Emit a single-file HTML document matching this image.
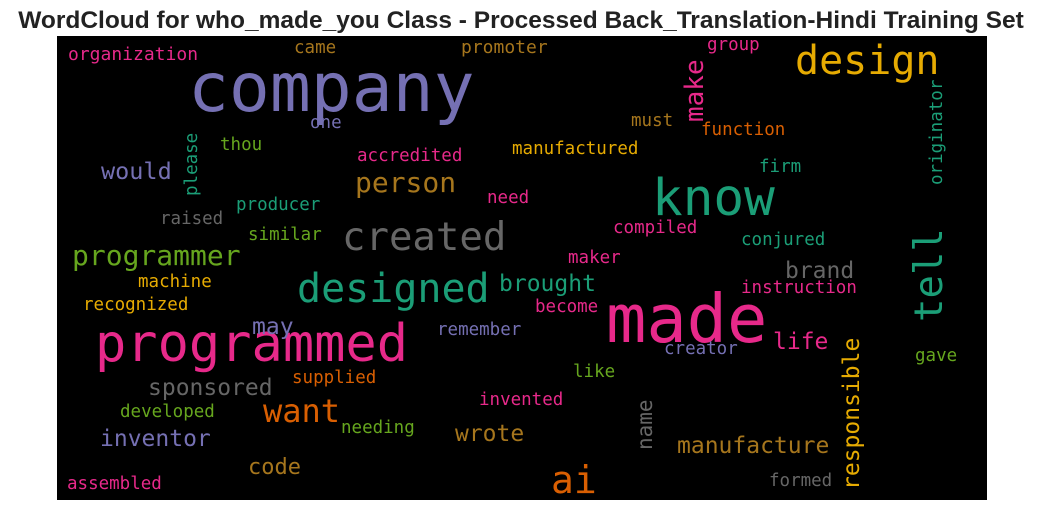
<!DOCTYPE html>
<html><head><meta charset="utf-8"><style>
html,body{margin:0;padding:0;background:#fff;width:1043px;height:511px;overflow:hidden}
svg text{font-family:"DejaVu Sans Mono","Liberation Mono",monospace}
</style></head><body>
<svg width="1043" height="511">
<text x="521" y="28" text-anchor="middle" style="font-family:'Liberation Sans',sans-serif;font-weight:bold;font-size:24.5px" fill="#222">WordCloud for who_made_you Class - Processed Back_Translation-Hindi Training Set</text>
<rect x="57" y="36" width="930" height="464" fill="#000"/>
<g id="cloud"></g>
</svg>
<script>
const words=["company","design","know","made","programmed","created","designed","tell","make","ai","want","programmer","person","brought","brand","would","inventor","sponsored","wrote","manufacture","code","life","may","responsible","name","organization","came","promoter","group","one","thou","accredited","manufactured","must","function","please","firm","originator","producer","need","raised","similar","compiled","conjured","maker","machine","instruction","recognized","become","remember","creator","gave","supplied","like","developed","invented","needing","assembled","formed"];
const sizes=[68,40,51,67,52,39,40,39,26,38,32,28,28,23,23,23.5,23,23,23,23,22,23,23,23,21,18,17.5,18,17.5,17.5,17.5,17.5,17.5,17.5,17.5,17.5,17.5,17.5,17.5,17.5,17.5,17.5,17.5,17.5,17.5,17.5,17.5,17.5,17.5,17.5,17.5,17.5,17.5,17.5,17.5,17.5,17.5,17.5,17.5];
const colorKeys=["purple","yellow","teal","pink","pink","gray","teal","teal","pink","orange","orange","green","brown","teal","gray","purple","purple","gray","brown","brown","brown","pink","purple","yellow","gray","pink","brown","brown","pink","purple","green","pink","yellow","brown","orange","teal","teal","teal","teal","pink","gray","green","pink","teal","pink","yellow","pink","yellow","pink","purple","purple","green","orange","green","green","pink","green","pink","gray"];
const palette={teal:"#1b9e77",orange:"#d95f02",purple:"#7570b3",pink:"#e7298a",green:"#66a61e",yellow:"#e6ab02",brown:"#a6761d",gray:"#666666"};
// layout: [x, y, vertical]
const layout=[[188,111,0],[795,74,0],[652,215,0],[606,342,0],[95,361,0],[342,250,0],[297,302,0],[942,322,1],[703,122,1],[551,493,0],[263,422,0],[72,265,0],[355,192,0],[499,291,0],[785,278,0],[101,179,0],[100,446,0],[148,395,0],[455,441,0],[677,453,0],[248,474,0],[773,349,0],[252,334,0],[859,490,1],[652,450,1],[68,60,0],[294,53,0],[461,53,0],[707,50,0],[310,128,0],[220,150,0],[357,161,0],[512,154,0],[631,126,0],[701,135,0],[197,196,1],[759,172,0],[942,185,1],[236,210,0],[487,203,0],[160,224,0],[248,240,0],[613,233,0],[741,245,0],[568,263,0],[138,287,0],[741,293,0],[83,310,0],[535,312,0],[437,335,0],[664,354,0],[915,361,0],[292,383,0],[573,377,0],[120,417,0],[479,405,0],[341,433,0],[67,489,0],[769,486,0]];
const g=document.getElementById('cloud');
words.forEach((w,i)=>{
  const t=document.createElementNS('http://www.w3.org/2000/svg','text');
  const [x,y,v]=layout[i];
  t.setAttribute('x',x);t.setAttribute('y',y);
  if(v)t.setAttribute('transform','rotate(-90 '+x+' '+y+')');
  t.setAttribute('font-size',sizes[i]);
  t.setAttribute('fill',palette[colorKeys[i]]);
  const len=w.length*0.602*sizes[i];
  t.setAttribute('textLength',len);t.setAttribute('lengthAdjust','spacingAndGlyphs');
  t.textContent=w;
  
  
  g.appendChild(t);
});
</script>
</body></html>
